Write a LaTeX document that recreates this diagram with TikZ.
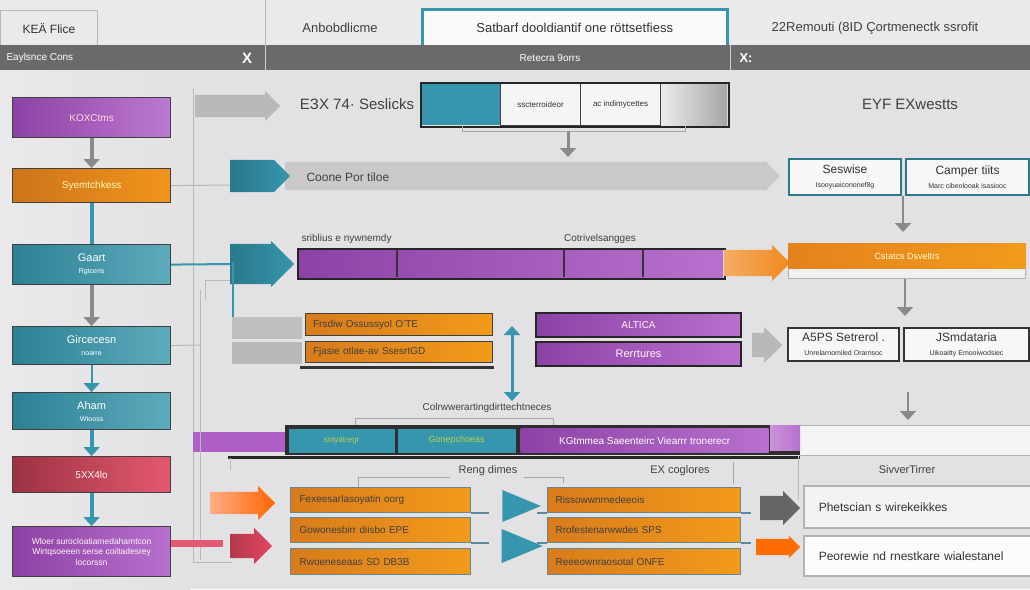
\documentclass[tikz,border=0pt]{standalone}
\usepackage{fontspec}
\setmainfont{Liberation Sans}
\usetikzlibrary{shapes.arrows,shapes.geometric,arrows.meta,positioning}

\definecolor{bgc}{HTML}{E2E2E4}
\definecolor{hdr}{HTML}{EAEAEB}
\definecolor{barc}{HTML}{6A6A6C}
\definecolor{purp}{HTML}{A64DC2}
\definecolor{orng}{HTML}{F0891F}
\definecolor{tealc}{HTML}{3596AD}
\definecolor{redc}{HTML}{E0475F}
\definecolor{arrgray}{HTML}{8A8A8C}
\definecolor{lime}{HTML}{B9D24A}

\newcommand\tsz[1]{\fontsize{#1}{#1}\selectfont}

\tikzset{
  box/.style={anchor=north west, inner sep=0pt, draw=black!75, line width=1.2pt, align=center},
  lbox/.style={box, minimum width=158pt},
  obox/.style={box, left color=orng!90!black, right color=orng!85!yellow, text=black!75, font=\tsz{10}, align=left, text width=170pt},
  wbox/.style={box, fill=white!94!gray, line width=2pt, font=\tsz{12}, text=black!80},
  garr/.style={draw=arrgray, line width=4pt, -{Triangle[length=9pt,width=16pt]}},
  tarr/.style={draw=tealc, line width=4pt, -{Triangle[length=9pt,width=16pt]}},
  wire/.style={draw=gray!55, line width=1pt},
  bigarr/.style={single arrow, single arrow head extend=0pt, inner xsep=0pt, anchor=west},
  lbl/.style={font=\tsz{11}, text=black!75}
}

\begin{document}
\begin{tikzpicture}[x=1pt,y=-1pt]
\useasboundingbox (0,0) rectangle (1030,589);
\fill[bgc] (0,0) rectangle (1030,589);
\fill[hdr] (0,0) rectangle (1030,45);% header
\shade[left color=white!25!bgc, right color=bgc] (0,70) rectangle (190,589);

% header tabs
\draw[gray!55] (265,0) -- (265,45);
\node[box, draw=gray!55, line width=1pt, minimum width=97pt, minimum height=36pt, font=\tsz{12}, text=black!80] (tabA) at (0,10) {KEÄ Flice};
\node[lbl, font=\tsz{13}] (tabT) at (340,28) {Anbobdlicme};
\node[box, draw=tealc, line width=2.5pt, fill=white!96!gray, minimum width=305pt, minimum height=38pt, font=\tsz{13}, text=black!80] (tabB) at (421,8) {Satbarf dooldiantif one röttsetfiess};
\node[lbl, font=\tsz{13}] (tabC) at (875,28) {22Remouti (8ID Çortmenectk ssrofit};

% dark bar
\fill[barc] (0,45) rectangle (1030,70);
\draw[gray!40] (265,45) -- (265,70);
\draw[gray!40] (730,45) -- (730,70);
\node[anchor=west, text=white, font=\tsz{10}] (barA) at (3,58) {Eaylsnce Cons};
\node[text=white, font=\bfseries\tsz{15}] (barX) at (247,58) {X};
\node[text=white, font=\tsz{10}] (barB) at (550,58) {Retecra 9orrs};
\node[text=white, font=\bfseries\tsz{13}] (barY) at (746,58) {X:};

% left column
\node[lbox, left color=purp!85!black, right color=purp!75!white, minimum height=40pt, text=pink!60!white, font=\tsz{10}] (kox) at (12,97) {KOXCtms};
\node[lbox, left color=orng!85!black, right color=orng!90!yellow, minimum height=34pt, text=yellow!30!white, font=\tsz{10}] (sym) at (12,168) {Syemtchkess};
\node[lbox, left color=tealc!85!black, right color=tealc!80!white, minimum height=40pt, text=white, font=\tsz{11}] (gaart) at (12,244) {Gaart\\[1pt]{\tsz{7}Rgtcens}};
\node[lbox, left color=tealc!85!black, right color=tealc!80!white, minimum height=38pt, text=white, font=\tsz{11}] (girc) at (12,326) {Gircecesn\\[1pt]{\tsz{7}noarre}};
\node[lbox, left color=tealc!85!black, right color=tealc!80!white, minimum height=37pt, text=white, font=\tsz{11}] (aham) at (12,392) {Aham\\[1pt]{\tsz{7}Wtooss}};
\node[lbox, left color=redc!70!black, right color=redc!90!white, minimum height=36pt, text=white!90!pink, font=\tsz{10}] (sx) at (12,456) {5XX4lo};
\node[lbox, left color=purp!85!black, right color=purp!80!white, minimum height=50pt, text=white!85!pink, font=\tsz{8.5}] (wloer) at (12,526) {Wloer surocloatiamedahamtcon\\[2pt]Wirtqsoeeen serse coiltadesrey\\[2pt]locorssn};

\draw[garr] (kox.south) -- (sym.north);
\draw[draw=tealc, line width=4pt] (sym.south) -- (gaart.north);
\draw[garr] (gaart.south) -- (girc.north);
\draw[tarr, line width=2pt] (girc.south) -- (aham.north);
\draw[tarr] (aham.south) -- (sx.north);
\draw[tarr] (sx.south) -- (wloer.north);

% wires on the left
\draw[wire] (193,88) -- (193,562) -- (232,562);
\draw[wire] (200,290) -- (200,428);
\draw[wire] (sym.east) -- (232,185);
\draw[draw=tealc, line width=2pt] (gaart.east) -- (232,264);
\draw[wire] (girc.east) -- (200,345);
\draw[wire] (205,300) -- (205,280) -- (232,280);

% top row
\node[bigarr, fill=gray!55, minimum height=85pt, inner ysep=11pt, single arrow head extend=4pt] (ga1) at (195,106) {};
\node[lbl, font=\tsz{15}] (esx) at (357,104) {EЗX 74· Seslicks};
\fill[tealc] (421,83) rectangle (500,125);
\node[box, draw=black!75, fill=white!92!gray, minimum width=80pt, minimum height=42pt, font=\tsz{8}, text=black!80] (seg1) at (500,83) {sscterroideor};
\node[box, draw=black!75, fill=white!92!gray, minimum width=80pt, minimum height=42pt, font=\tsz{8}, text=black!80] (seg2) at (580,83) {ac indimycettes};
\shade[left color=gray!15, right color=gray!70] (661,84) rectangle (727,125);
\node[box, draw=black!85, line width=2pt, minimum width=308pt, minimum height=44pt] (tbar) at (420,82) {};
\draw[wire, draw=gray!70] (462,126) -- (462,131) -- (685,131) -- (685,126);
\coordinate (tb1) at (568,131);
\coordinate (tb2) at (568,157);
\draw[garr, line width=3pt] (tb1) -- (tb2);
\node[lbl, font=\tsz{15}] (eyf) at (910,104) {EYF EXwestts};

% row 2
\node[bigarr, fill=gray!42, minimum height=495pt, inner ysep=14pt, single arrow head extend=1pt] (cband) at (285,176) {};
\node[anchor=west, lbl, font=\tsz{12}] (coone) at (303,177) {Coone Por tiloe};
\node[bigarr, left color=tealc!80!black, right color=tealc, minimum height=60pt, inner ysep=16pt] (ta1) at (230,176) {};
\node[wbox, draw=tealc!80!black, minimum width=112pt, minimum height=36pt] (sws) at (788,158) {Seswise\\[2pt]{\tsz{7}Isooyuaicononef8g}};
\node[wbox, draw=tealc!80!black, minimum width=123pt, minimum height=36pt] (cmp) at (905,158) {Camper tiits\\[2pt]{\tsz{7}Marc cibeolooak isasiooc}};
\coordinate (d1a) at (903,196);
\coordinate (d1b) at (903,232);
\draw[garr, line width=2pt] (d1a) -- (d1b);

% row 3
\node[anchor=west, lbl, font=\tsz{10}] (srib) at (298,239) {sriblius e nywnemdy};
\node[lbl, font=\tsz{10}] (cotr) at (600,239) {Cotrivelsangges};
\node[bigarr, left color=tealc!80!black, right color=tealc, minimum height=64pt, inner ysep=20pt, single arrow head extend=3pt] (ta2) at (230,264) {};
\shade[left color=purp!85!black, right color=purp!80!white] (298,249) rectangle (723,277);
\node[box, draw=black!85, line width=2pt, minimum width=427pt, minimum height=30pt] (pbar) at (297,248) {};
\foreach \xp in {397,564,643}{
  \draw[black!80, line width=1.5pt] (\xp,249) -- (\xp,277);
}
\node[bigarr, left color=orng!70!white, right color=orng, minimum height=66pt, inner ysep=13pt, single arrow head extend=5pt] (oa1) at (724,263) {};
\node[box, draw=gray!60, line width=1pt, fill=gray!12, minimum width=237pt, minimum height=35pt] (cstat0) at (788,243) {};
\node[box, draw=none, left color=orng!95!black, right color=orng!85!yellow, minimum width=237pt, minimum height=25pt, text=white!85!yellow, font=\tsz{9}] (cstat) at (788,243) {Cstatcs Dsveltrs};
\coordinate (d2a) at (905,279);
\coordinate (d2b) at (905,316);
\draw[garr, line width=2pt] (d2a) -- (d2b);

% row 4
\draw[draw=tealc, line width=2pt] (233,262) -- (233,333) -- (300,333);
\fill[gray!50] (232,317) rectangle (302,339);
\fill[gray!55] (232,342) rectangle (302,364);
\draw[black!80, line width=3pt] (300,367) -- (494,367);
\node[obox, minimum width=187pt, minimum height=22pt, text width=180pt] (ob1) at (305,313) {\hspace{4pt}Frsdiw Ossussyol O'TE};
\node[obox, minimum width=187pt, minimum height=21pt, text width=180pt] (ob2) at (305,341) {\hspace{4pt}Fjasie otlae-av SsesrtGD};
\coordinate (dv1) at (512,326);
\coordinate (dv2) at (512,401);
\draw[draw=tealc, line width=3pt, {Triangle[length=9pt,width=16pt]}-{Triangle[length=9pt,width=16pt]}] (dv1) -- (dv2);
\node[box, draw=black!85, line width=2pt, left color=purp!85!black, right color=purp!80!white, minimum width=205pt, minimum height=24pt, text=white!85!pink, font=\tsz{10}] (altica) at (535,312) {ALTICA};
\node[box, draw=black!85, line width=2pt, left color=purp!85!black, right color=purp!80!white, minimum width=205pt, minimum height=24pt, text=white!85!pink, font=\tsz{11}] (rerr) at (535,341) {Rerrtures};
\node[bigarr, fill=gray!55, minimum height=30pt, inner ysep=12pt, single arrow head extend=6pt] (ga2) at (752,345) {};
\node[wbox, draw=black!80, minimum width=111pt, minimum height=33pt] (asps) at (787,327) {A5PS Setrerol .\\[2pt]{\tsz{7}Unrelarnomiled Orarnsoc}};
\node[wbox, draw=black!80, minimum width=125pt, minimum height=33pt] (jsmd) at (903,327) {JSmdataria\\[2pt]{\tsz{7}Uikoaitty Emooiwodsiec}};
\coordinate (d3a) at (908,392);
\coordinate (d3b) at (908,420);
\draw[garr, line width=2pt] (d3a) -- (d3b);

% row 5
\node[lbl, font=\tsz{10}] (colrw) at (487,408) {Colrwwerartingdirttechtneces};
\draw[wire, draw=gray!70] (355,425) -- (355,418) -- (553,418) -- (553,425);
\fill[white!60!bgc] (800,425) rectangle (1030,455);
\draw[gray!60] (800,455) -- (1030,455);
\draw[gray!60] (800,425) -- (1030,425);
\fill[purp!90!white] (193,432) rectangle (286,452);
\fill[black!82] (285,425) rectangle (800,455);
\node[box, draw=none, fill=tealc, minimum width=106pt, minimum height=24pt, text=lime, font=\tsz{8}] (soty) at (288,428) {sotyatregr};
\node[box, draw=none, fill=tealc, minimum width=118pt, minimum height=24pt, text=lime, font=\tsz{9}] (gonep) at (397,428) {Gonepchoeas};
\node[box, draw=none, left color=purp!85!black, right color=purp!80!white, minimum width=248pt, minimum height=24pt, text=white, font=\tsz{10}] (kgtm) at (520,428) {KGtmmea Saeenteirc Viearrr tronerecr};
\shade[left color=purp!60!white, right color=purp!80] (770,425) rectangle (800,450);
\draw[black!85, line width=3pt] (228,457) -- (800,457);
\draw[wire] (200,428) -- (200,560);
\draw[wire] (230,458) -- (230,470);
\draw[wire] (798,455) -- (798,500);

% row 6
\node[lbl, font=\tsz{11}] (siv) at (907,470) {SivverTirrer};
\node[lbl, font=\tsz{11}] (reng) at (488,471) {Reng dimes};
\node[lbl, font=\tsz{11}] (exc) at (680,471) {EX coglores};
\draw[wire, draw=gray!70] (358,487) -- (358,477) -- (450,477);
\draw[wire, draw=gray!70] (524,477) -- (563,477) -- (563,483);
\draw[wire, draw=gray!70] (733,462) -- (733,484);

\node[obox, draw=tealc!40!gray, minimum width=180pt, minimum height=25pt, text width=170pt] (lb1) at (290,487) {\hspace{4pt}Fexeesarlasoyatin oorg};
\node[obox, draw=tealc!40!gray, minimum width=180pt, minimum height=25pt, text width=170pt] (lb2) at (290,517) {\hspace{4pt}Gowonesbirr diisbo EPE};
\node[obox, draw=tealc!40!gray, minimum width=180pt, minimum height=26pt, text width=170pt] (lb3) at (290,548) {\hspace{4pt}Rwoeneseaas SD DB3B};
\node[obox, draw=tealc!40!gray, minimum width=193pt, minimum height=25pt, text width=185pt] (rb1) at (547,487) {\hspace{4pt}Rissowwnrnedeeois};
\node[obox, draw=tealc!40!gray, minimum width=193pt, minimum height=25pt, text width=185pt] (rb2) at (547,517) {\hspace{4pt}Rrofestenarwwdes SPS};
\node[obox, draw=tealc!40!gray, minimum width=193pt, minimum height=26pt, text width=185pt] (rb3) at (547,548) {\hspace{4pt}Reeeownraosotal ONFE};
\draw[draw=tealc!50!gray, line width=2.5pt] (lb1.south east) -- ++(18,0);
\draw[draw=tealc!50!gray, line width=2.5pt] (lb2.south east) -- ++(18,0);
\draw[draw=tealc!50!gray, line width=2.5pt] (rb1.south west) -- ++(-10,0) (rb1.south east) -- ++(10,0);
\draw[draw=tealc!50!gray, line width=2.5pt] (rb2.south west) -- ++(-10,0) (rb2.south east) -- ++(10,0);
\node[isosceles triangle, fill=tealc, minimum height=24pt, minimum width=32pt, inner sep=0pt] (tt1) at (513,506) {};
\node[isosceles triangle, fill=tealc, minimum height=24pt, minimum width=34pt, inner sep=0pt] (tt2) at (513,546) {};

\node[bigarr, left color=orange!30!pink, right color=orange!80!red, minimum height=65pt, inner ysep=11pt, single arrow head extend=6pt] (sa1) at (210,503) {};
\node[bigarr, left color=redc!80!black, right color=redc, minimum height=42pt, inner ysep=12pt, single arrow head extend=6pt] (ra1) at (230,546) {};
\draw[draw=redc!90!white, line width=7pt] (wloer.east) ++(0,-8) -- ++(52,0);

\node[bigarr, fill=black!60, minimum height=40pt, inner ysep=12pt, single arrow head extend=5pt] (ga3) at (760,508) {};
\node[bigarr, fill=orange!85!red, minimum height=44pt, inner ysep=8pt, single arrow head extend=3pt] (oa2) at (756,547) {};
\node[box, draw=gray!60, line width=1.5pt, fill=white!60!bgc, minimum width=228pt, minimum height=42pt, font=\tsz{12}, text=black!80, align=left, text width=210pt] (phet) at (803,485) {\hspace{6pt}Phetscian s wirekeikkes};
\node[box, draw=gray!60, line width=1.5pt, fill=white!90!bgc, minimum width=228pt, minimum height=40pt, font=\tsz{12}, text=black!80, align=left, text width=210pt] (peor) at (803,535) {\hspace{6pt}Peorewie nd rnestkare wialestanel};
\end{tikzpicture}
\end{document}
